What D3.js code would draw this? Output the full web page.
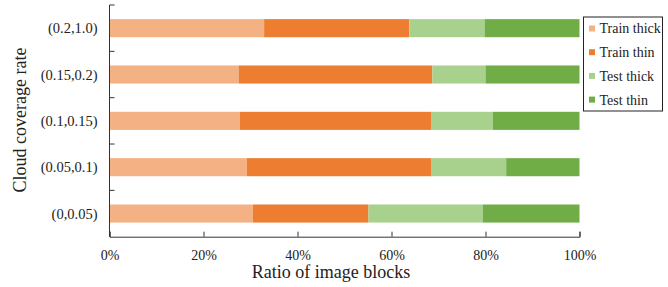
<!DOCTYPE html>
<html>
<head>
<meta charset="utf-8">
<script src="https://cdn.jsdelivr.net/npm/d3@7"></script>
<style>
  body { margin: 0; background: #fff; }
</style>
</head>
<body>
<div id="chart"></div>
<script>
// categories, top to bottom
const categories = ['(0.2,1.0)', '(0.15,0.2)', '(0.1,0.15)', '(0.05,0.1)', '(0,0.05)'];
const seriesNames = ['Train thick', 'Train thin', 'Test thick', 'Test thin'];
const seriesColors = ['#f4b183', '#ed7d31', '#a9d18e', '#70ad47'];
// percentages per category (same order as categories)
const trainThick = [32.9, 27.5, 27.7, 29.2, 30.5];
const trainThin  = [30.9, 41.2, 40.7, 39.2, 24.6];
const testThick  = [16.0, 11.3, 13.2, 16.0, 24.3];
const testThin   = [20.2, 20.0, 18.4, 15.6, 20.6];
const xTicks = [0, 20, 40, 60, 80, 100];

const FONT = 'Liberation Serif';

window.onload = init;

function init()
{
    const width = 668, height = 287;
    const m = {left: 109.5, right: 88.5, top: 5, bottom: 50.3};
    const svg = d3.select('#chart').append('svg').attr('width', width).attr('height', height)
        .attr('font-family', FONT);

    const rows = categories.map((c, i) => ({
        cat: c,
        'Train thick': trainThick[i],
        'Train thin': trainThin[i],
        'Test thick': testThick[i],
        'Test thin': testThin[i]
    }));
    const stacked = d3.stack().keys(seriesNames)(rows);

    const x = d3.scaleLinear().domain([0, 100]).range([m.left, width - m.right]);
    const y = d3.scaleBand().domain(categories).range([m.top, height - m.bottom]).paddingInner(0.61).paddingOuter(0.305);
    const color = d3.scaleOrdinal().domain(seriesNames).range(seriesColors);

    // bars
    svg.append('g').selectAll('g').data(stacked).enter().append('g')
        .attr('fill', d => color(d.key))
        .selectAll('rect').data(d => d).enter().append('rect')
        .attr('x', d => x(d[0]))
        .attr('width', d => x(d[1]) - x(d[0]))
        .attr('y', d => y(d.data.cat))
        .attr('height', y.bandwidth());

    // y axis, ticks between bands pointing inward
    const yAx = svg.append('g');
    yAx.append('line').attr('x1', m.left).attr('x2', m.left)
        .attr('y1', m.top).attr('y2', height - m.bottom).attr('stroke', '#333');
    const step = y.step();
    d3.range(categories.length).forEach(i => {
        const yy = m.top + i * step;
        yAx.append('line').attr('x1', m.left).attr('x2', m.left + 5)
            .attr('y1', yy).attr('y2', yy).attr('stroke', '#333');
    });
    yAx.selectAll('text').data(categories).enter().append('text')
        .attr('x', m.left - 12)
        .attr('y', d => y(d) + y.bandwidth() / 2)
        .attr('dy', '0.35em')
        .attr('text-anchor', 'end')
        .attr('fill', '#222')
        .attr('font-family', FONT)
        .attr('font-size', 14.5)
        .text(d => d);

    // x axis
    const xAxis = d3.axisBottom(x).tickValues(xTicks).tickFormat(d => d + '%').tickSize(-5).tickPadding(13);
    const gx = svg.append('g').attr('transform', `translate(0,${height - m.bottom})`).call(xAxis)
        .attr('font-family', FONT).attr('font-size', 14);
    gx.select('.domain').attr('stroke', '#333');
    gx.selectAll('.tick line').attr('stroke', '#333');
    gx.selectAll('text').attr('fill', '#222');

    // axis titles
    svg.append('text').attr('x', 331).attr('y', 278).attr('fill', '#222')
        .attr('text-anchor', 'middle').attr('font-family', FONT).attr('font-size', 18).text('Ratio of image blocks');
    svg.append('text').attr('transform', 'translate(26,120) rotate(-90)').attr('fill', '#222')
        .attr('text-anchor', 'middle').attr('font-family', FONT).attr('font-size', 18).text('Cloud coverage rate');

    // legend
    const lg = svg.append('g');
    lg.append('rect').attr('x', 583.5).attr('y', 17).attr('width', 79).attr('height', 94)
        .attr('fill', '#fff').attr('stroke', '#222');
    seriesNames.forEach((s, i) => {
        const cy = 28.5 + i * 23.7;
        lg.append('rect').attr('x', 589).attr('y', cy - 3).attr('width', 6).attr('height', 6).attr('fill', color(s));
        lg.append('text').attr('x', 599.5).attr('y', cy).attr('dy', '0.35em').attr('fill', '#222')
            .attr('font-family', FONT).attr('font-size', 14).text(s);
    });
}
</script>
</body>
</html>
